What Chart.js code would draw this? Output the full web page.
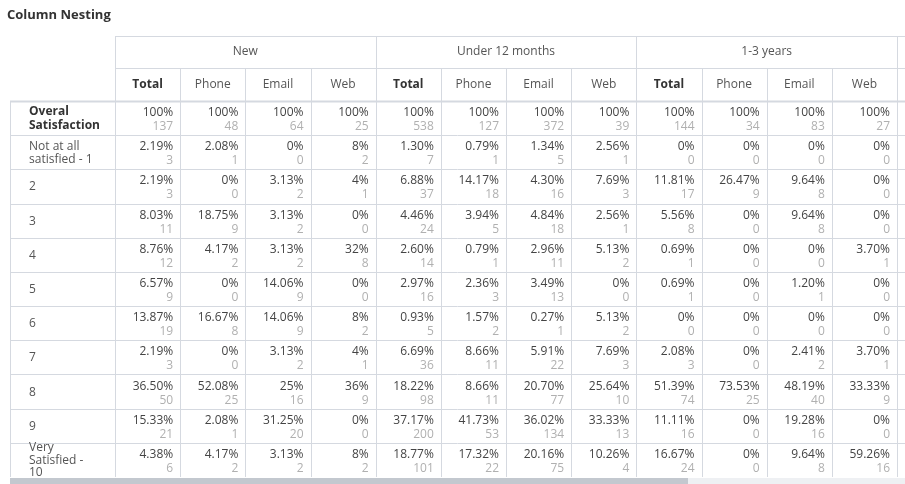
<!DOCTYPE html>
<html>
<head>
<meta charset="utf-8">
<script src="https://cdn.jsdelivr.net/npm/chart.js@4.4.0/dist/chart.umd.min.js"></script>
<style>
  body { margin: 0; background: #fff; font-family: "Open Sans", sans-serif; }
  #title { position: absolute; left: 7px; top: 5px; font-size: 13px; font-weight: bold; color: #333; }
  #wrap { position: absolute; left: 0; top: 0; width: 905px; height: 484px; }
</style>
</head>
<body>
<div id="wrap"><canvas id="tbl"></canvas></div>
<div id="title">Column Nesting</div>
<script>
// ===== DATA =====
const groups = ['New', 'Under 12 months', '1-3 years'];
const subCols = ['Total', 'Phone', 'Email', 'Web'];
const rowLabels = [['Overal', 'Satisfaction'], ['Not at all', 'satisfied - 1'], ['2'], ['3'], ['4'], ['5'], ['6'], ['7'], ['8'], ['9'], ['Very', 'Satisfied -', '10']];
const pctNew = [
  ['100%', '100%', '100%', '100%'],
  ['2.19%', '2.08%', '0%', '8%'],
  ['2.19%', '0%', '3.13%', '4%'],
  ['8.03%', '18.75%', '3.13%', '0%'],
  ['8.76%', '4.17%', '3.13%', '32%'],
  ['6.57%', '0%', '14.06%', '0%'],
  ['13.87%', '16.67%', '14.06%', '8%'],
  ['2.19%', '0%', '3.13%', '4%'],
  ['36.50%', '52.08%', '25%', '36%'],
  ['15.33%', '2.08%', '31.25%', '0%'],
  ['4.38%', '4.17%', '3.13%', '8%']
];
const cntNew = [[137, 48, 64, 25], [3, 1, 0, 2], [3, 0, 2, 1], [11, 9, 2, 0], [12, 2, 2, 8], [9, 0, 9, 0], [19, 8, 9, 2], [3, 0, 2, 1], [50, 25, 16, 9], [21, 1, 20, 0], [6, 2, 2, 2]];
const pctU12 = [
  ['100%', '100%', '100%', '100%'],
  ['1.30%', '0.79%', '1.34%', '2.56%'],
  ['6.88%', '14.17%', '4.30%', '7.69%'],
  ['4.46%', '3.94%', '4.84%', '2.56%'],
  ['2.60%', '0.79%', '2.96%', '5.13%'],
  ['2.97%', '2.36%', '3.49%', '0%'],
  ['0.93%', '1.57%', '0.27%', '5.13%'],
  ['6.69%', '8.66%', '5.91%', '7.69%'],
  ['18.22%', '8.66%', '20.70%', '25.64%'],
  ['37.17%', '41.73%', '36.02%', '33.33%'],
  ['18.77%', '17.32%', '20.16%', '10.26%']
];
const cntU12 = [[538, 127, 372, 39], [7, 1, 5, 1], [37, 18, 16, 3], [24, 5, 18, 1], [14, 1, 11, 2], [16, 3, 13, 0], [5, 2, 1, 2], [36, 11, 22, 3], [98, 11, 77, 10], [200, 53, 134, 13], [101, 22, 75, 4]];
const pct13 = [
  ['100%', '100%', '100%', '100%'],
  ['0%', '0%', '0%', '0%'],
  ['11.81%', '26.47%', '9.64%', '0%'],
  ['5.56%', '0%', '9.64%', '0%'],
  ['0.69%', '0%', '0%', '3.70%'],
  ['0.69%', '0%', '1.20%', '0%'],
  ['0%', '0%', '0%', '0%'],
  ['2.08%', '0%', '2.41%', '3.70%'],
  ['51.39%', '73.53%', '48.19%', '33.33%'],
  ['11.11%', '0%', '19.28%', '0%'],
  ['16.67%', '0%', '9.64%', '59.26%']
];
const cnt13 = [[144, 34, 83, 27], [0, 0, 0, 0], [17, 9, 8, 0], [8, 0, 8, 0], [1, 0, 0, 1], [1, 0, 1, 0], [0, 0, 0, 0], [3, 0, 2, 1], [74, 25, 40, 9], [16, 0, 16, 0], [24, 0, 8, 16]];

// ===== BUILD CELLS =====
const pctAll = [pctNew, pctU12, pct13];
const cntAll = [cntNew, cntU12, cnt13];
const cells = [];
pctAll.forEach((g, gi) => {
  g.forEach((row, ri) => {
    row.forEach((p, si) => {
      cells.push({ x: gi * 4 + si, y: ri, pct: p, cnt: cntAll[gi][ri][si] });
    });
  });
});

const LINE = '#d5d9e0';

// ===== TABLE PLUGIN =====
const tablePlugin = {
  id: 'tablePlugin',
  afterDatasetsDraw(chart) {
    const { ctx, scales: { x, y }, chartArea: ca } = chart;
    const colW = x.getPixelForValue(1) - x.getPixelForValue(0);
    const rowH = y.getPixelForValue(1) - y.getPixelForValue(0);
    const hdrTop = 36;
    const subTop = 68;
    ctx.save();
    ctx.strokeStyle = LINE;
    ctx.lineWidth = 1;

    const hline = (yy, x0, x1) => { ctx.beginPath(); ctx.moveTo(x0, Math.round(yy) + 0.5); ctx.lineTo(x1, Math.round(yy) + 0.5); ctx.stroke(); };
    const vline = (xx, y0, y1) => { ctx.beginPath(); ctx.moveTo(Math.round(xx) + 0.5, y0); ctx.lineTo(Math.round(xx) + 0.5, y1); ctx.stroke(); };
    hline(hdrTop, ca.left, 905);
    hline(subTop, ca.left, 905);
    ctx.lineWidth = 2;
    hline(ca.top, 10, 905);
    ctx.lineWidth = 1;
    for (let r = 1; r < rowLabels.length; r++) hline(y.getPixelForValue(r - 0.5), 10, 905);

    vline(10, ca.top, ca.bottom);
    for (let c = 0; c <= 12; c++) {
      const xx = x.getPixelForValue(c - 0.5);
      const top = (c % 4 === 0) ? hdrTop : subTop;
      vline(xx, top, ca.bottom);
    }

    // group headers
    ctx.font = '12px "Open Sans", sans-serif';
    ctx.fillStyle = '#555';
    ctx.textAlign = 'center';
    ctx.textBaseline = 'middle';
    groups.forEach((g, gi) => {
      const cx = (x.getPixelForValue(gi * 4 - 0.5) + x.getPixelForValue(gi * 4 + 3.5)) / 2;
      ctx.fillText(g, cx, (hdrTop + subTop) / 2);
    });

    // sub headers
    for (let c = 0; c < 12; c++) {
      const s = subCols[c % 4];
      ctx.font = (s === 'Total' ? 'bold ' : '') + '12px "Open Sans", sans-serif';
      ctx.fillStyle = s === 'Total' ? '#333' : '#555';
      ctx.fillText(s, x.getPixelForValue(c), (subTop + ca.top) / 2);
    }

    // row labels
    ctx.textAlign = 'left';
    ctx.textBaseline = 'alphabetic';
    rowLabels.forEach((lab, ri) => {
      const cy = y.getPixelForValue(ri);
      ctx.font = (ri === 0 ? 'bold ' : '') + '12px "Open Sans", sans-serif';
      ctx.fillStyle = ri === 0 ? '#333' : '#555';
      const lh = lab.length > 2 ? 12.5 : 13.5;
      const startY = cy - (lab.length - 1) * lh / 2 + 4;
      lab.forEach((t, li) => ctx.fillText(t, 29, startY + li * lh));
    });

    // cells
    ctx.textAlign = 'right';
    cells.forEach(c => {
      const right = x.getPixelForValue(c.x) + colW / 2 - 7;
      const cy = y.getPixelForValue(c.y);
      ctx.font = '12px "Open Sans", sans-serif';
      ctx.fillStyle = '#444';
      ctx.fillText(c.pct, right, cy - 2);
      ctx.fillStyle = '#b0b0b0';
      ctx.fillText(String(c.cnt), right, cy + 12);
    });

    // scrollbar
    ctx.fillStyle = '#eef0f3';
    ctx.fillRect(10, 478, 895, 6);
    ctx.fillStyle = '#c3c8cf';
    ctx.fillRect(10, 478, 678, 6);
    ctx.restore();
  }
};

// ===== CHART =====
new Chart(document.getElementById('tbl'), {
  type: 'scatter',
  data: { datasets: [{ data: cells, pointRadius: 0, pointHoverRadius: 0 }] },
  options: {
    responsive: true,
    maintainAspectRatio: false,
    animation: false,
    events: [],
    layout: { padding: { left: 115, top: 101, right: 8, bottom: 7 } },
    plugins: { legend: { display: false }, tooltip: { enabled: false } },
    scales: {
      x: { type: 'linear', min: -0.5, max: 11.5, display: false },
      y: { type: 'linear', min: -0.5, max: 10.5, reverse: true, display: false }
    }
  },
  plugins: [tablePlugin]
});
</script>
</body>
</html>
